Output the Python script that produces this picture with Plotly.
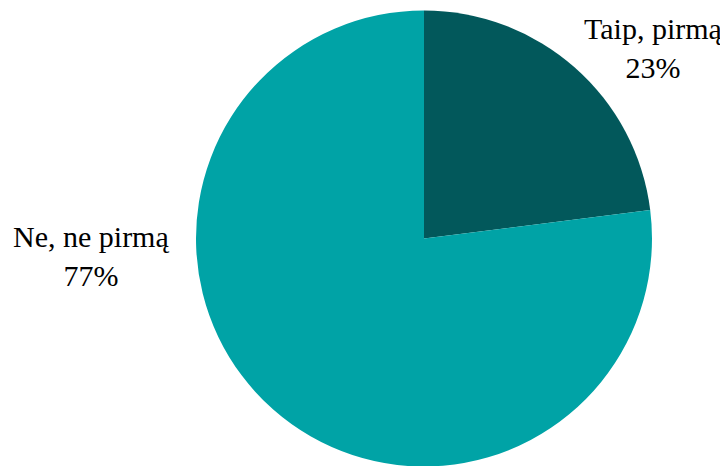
import plotly.graph_objects as go

labels = ["Taip, pirmą", "Ne, ne pirmą"]
values = [23, 77]
colors = ["#02585B", "#00A3A6"]

W, H = 728, 466
# the page body has an 8px margin; positions below are in figure pixels
cx, cy, r = 416, 230.5, 228

fig = go.Figure(go.Pie(
    labels=labels, values=values, sort=False, direction="clockwise",
    rotation=0, marker=dict(colors=colors, line=dict(width=0)),
    textinfo="none", hoverinfo="label+percent",
    domain=dict(x=[(cx - r) / W, (cx + r) / W], y=[1 - (cy + r) / H, 1 - (cy - r) / H]),
))

total = sum(values)
label_pos = [(645, 40), (83, 248)]
for lab, val, (px, py) in zip(labels, values, label_pos):
    fig.add_annotation(
        x=px / W, y=1 - py / H, xref="paper", yref="paper",
        text=f"{lab}<br>{round(val / total * 100)}%", showarrow=False,
        xanchor="center", yanchor="middle",
        font=dict(family="Liberation Serif", size=30, color="#000000"),
    )

fig.update_layout(
    width=W, height=H, margin=dict(l=0, r=0, t=0, b=0),
    paper_bgcolor="white", plot_bgcolor="white", showlegend=False,
)
fig.write_html("out.html")
